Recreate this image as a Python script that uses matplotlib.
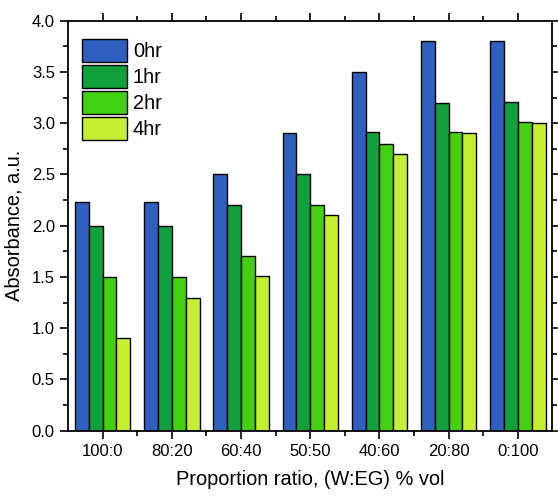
import numpy as np
from matplotlib import pyplot as plt
from matplotlib.ticker import MultipleLocator, FixedLocator

plt.rcParams['font.family'] = ['Liberation Sans', 'DejaVu Sans']

ratios = ['100:0', '80:20', '60:40', '50:50', '40:60', '20:80', '0:100']
times = ['0hr', '1hr', '2hr', '4hr']
abs_0hr = [2.23, 2.23, 2.5, 2.9, 3.5, 3.8, 3.8]
abs_1hr = [2.0, 2.0, 2.2, 2.5, 2.91, 3.2, 3.21]
abs_2hr = [1.5, 1.5, 1.7, 2.2, 2.8, 2.91, 3.01]
abs_4hr = [0.9, 1.29, 1.51, 2.1, 2.7, 2.9, 3.0]
colors = ['#2f5fbf', '#10a03c', '#44d012', '#c4ef33']

series = [abs_0hr, abs_1hr, abs_2hr, abs_4hr]
x = np.arange(len(ratios))
width = 0.2

fig = plt.figure(figsize=(5.58, 4.97), dpi=100)
ax = fig.add_axes([0.1219, 0.1334, 0.8681, 0.8250])

for i, (vals, lab) in enumerate(zip(series, times)):
	ax.bar(x + (i - 1.5) * width, vals, width, color=colors[i],
		edgecolor='black', linewidth=1.0, label=lab, zorder=2)

ax.set_xlim(-0.5, 6.5)
ax.set_ylim(0, 4.0)
ax.set_xticks(x)
ax.set_xticklabels(ratios)
ax.xaxis.set_minor_locator(FixedLocator(x[:-1] + 0.5))
ax.yaxis.set_major_locator(MultipleLocator(0.5))
ax.yaxis.set_minor_locator(MultipleLocator(0.25))
ax.yaxis.set_major_formatter(plt.FormatStrFormatter('%.1f'))

ax.tick_params(which='both', direction='out', top=True, right=True,
	width=1.2, labelsize=12)
ax.tick_params(which='major', length=6)
ax.tick_params(which='minor', length=3.5)
for s in ax.spines.values():
	s.set_linewidth(1.3)

ax.set_xlabel('Proportion ratio, (W:EG) % vol', fontsize=14.4, labelpad=8)
ax.set_ylabel('Absorbance, a.u.', fontsize=14.4, labelpad=6)

ax.legend(loc='upper left', frameon=False, fontsize=14.4,
	handlelength=2.25, handleheight=1.4, handletextpad=0.3,
	labelspacing=0.15, borderaxespad=0, borderpad=0.4,
	bbox_to_anchor=(0.012, 0.975))

fig.savefig('out.png', dpi=100)
